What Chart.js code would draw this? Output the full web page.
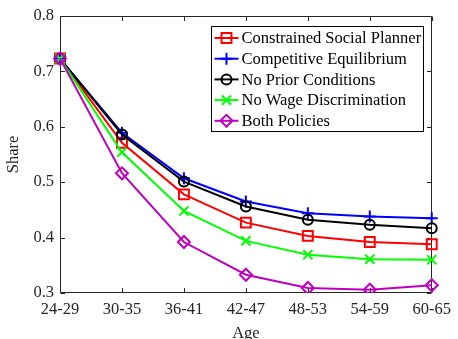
<!DOCTYPE html>
<html>
<head>
<meta charset="utf-8">
<script src="https://cdn.jsdelivr.net/npm/chart.js@4.4.1/dist/chart.umd.min.js"></script>
<style>
  html, body { margin: 0; padding: 0; background: #fff; }
</style>
</head>
<body>
<canvas id="chart" width="458" height="339"></canvas>
<script>
// age groups on the x axis
const ageGroups = ['24-29', '30-35', '36-41', '42-47', '48-53', '54-59', '60-65'];

// share by age group for each scenario
const socialPlanner   = [0.723, 0.571, 0.478, 0.427, 0.403, 0.392, 0.388];
const competitiveEq   = [0.723, 0.589, 0.507, 0.465, 0.444, 0.438, 0.435];
const noPriorCond     = [0.723, 0.586, 0.501, 0.456, 0.432, 0.423, 0.417];
const noWageDiscrim   = [0.723, 0.554, 0.448, 0.394, 0.369, 0.361, 0.360];
const bothPolicies    = [0.723, 0.516, 0.392, 0.333, 0.309, 0.306, 0.314];

const yTicks = [0.3, 0.4, 0.5, 0.6, 0.7, 0.8];

const axisColor = '#262626';
const serif = '"Liberation Serif", "Times New Roman", serif';

function series(label, data, color, style, radius, order) {
  return {
    label: label,
    data: data,
    borderColor: color,
    backgroundColor: color,
    borderWidth: 2,
    pointStyle: style,
    pointRadius: radius,
    pointHoverRadius: radius,
    pointBorderColor: color,
    pointBackgroundColor: 'rgba(0,0,0,0)',
    pointBorderWidth: 2,
    tension: 0,
    order: order
  };
}

// matlab-like box with inward ticks
const axesBox = {
  id: 'axesBox',
  beforeDatasetsDraw(chart) {
    const { ctx, chartArea: a, scales } = chart;
    const L = Math.round(a.left) + 0.5, R = Math.round(a.right) - 0.5;
    const T = Math.round(a.top) + 0.5, B = Math.round(a.bottom) - 0.5;
    const tl = 4.5;
    ctx.save();
    ctx.strokeStyle = axisColor;
    ctx.lineWidth = 1;
    ctx.beginPath();
    ctx.rect(L, T, R - L, B - T);
    scales.x.ticks.forEach((t, i) => {
      const x = Math.round(scales.x.getPixelForTick(i)) + 0.5;
      ctx.moveTo(x, B); ctx.lineTo(x, B - tl);
      ctx.moveTo(x, T); ctx.lineTo(x, T + tl);
    });
    scales.y.ticks.forEach(t => {
      const y = Math.round(scales.y.getPixelForValue(t.value)) + 0.5;
      ctx.moveTo(L, y); ctx.lineTo(L + tl, y);
      ctx.moveTo(R, y); ctx.lineTo(R - tl, y);
    });
    ctx.stroke();
    ctx.restore();
  }
};

// legend box in the top right corner of the plot
const legendBox = {
  id: 'legendBox',
  afterDatasetsDraw(chart) {
    const { ctx, chartArea: a } = chart;
    const sets = chart.data.datasets;
    const rowH = 20.7;
    ctx.save();
    ctx.font = '16.5px ' + serif;
    const textW = Math.max(...sets.map(d => ctx.measureText(d.label).width));
    const right = Math.round(a.right - 9) + 0.5;
    const top = Math.round(a.top + 10) + 0.5;
    const left = Math.round(right - textW - 33) + 0.5;
    const height = Math.round(rowH * sets.length + 1);
    ctx.fillStyle = '#fff';
    ctx.fillRect(left, top, right - left, height);
    ctx.strokeStyle = '#000';
    ctx.lineWidth = 1;
    ctx.strokeRect(left, top, right - left, height);
    sets.forEach((d, i) => {
      const y = top + 11.5 + i * rowH;
      ctx.strokeStyle = d.borderColor;
      ctx.lineWidth = 2;
      ctx.beginPath();
      ctx.moveTo(left + 3, y);
      ctx.lineTo(left + 27, y);
      ctx.stroke();
      // hollow marker on top of the line sample
      ctx.fillStyle = 'rgba(0,0,0,0)';
      Chart.helpers.drawPoint(ctx, {
        pointStyle: d.pointStyle,
        radius: d.pointRadius,
        rotation: 0,
        borderWidth: 2
      }, left + 15, y);
      ctx.fillStyle = '#000';
      ctx.textBaseline = 'middle';
      ctx.textAlign = 'left';
      ctx.fillText(d.label, left + 30, y + 1);
    });
    ctx.restore();
  }
};

const ctx = document.getElementById('chart').getContext('2d');

new Chart(ctx, {
  type: 'line',
  data: {
    labels: ageGroups,
    datasets: [
      series('Constrained Social Planner', socialPlanner, '#ff0000', 'rect', 7, 4),
      series('Competitive Equilibrium', competitiveEq, '#0000ff', 'cross', 6, 3),
      series('No Prior Conditions', noPriorCond, '#000000', 'circle', 5, 2),
      series('No Wage Discrimination', noWageDiscrim, '#00ff00', 'crossRot', 6.5, 1),
      series('Both Policies', bothPolicies, '#bf00bf', 'rectRot', 6, 0)
    ]
  },
  options: {
    responsive: false,
    animation: false,
    devicePixelRatio: 1,
    layout: { padding: { top: 15, right: 20, left: 0, bottom: 0 } },
    plugins: {
      legend: { display: false },
      tooltip: { enabled: false }
    },
    scales: {
      x: {
        type: 'category',
        offset: false,
        grid: { display: false, drawTicks: false },
        border: { display: false },
        ticks: {
          color: axisColor,
          font: { family: serif, size: 16.5 },
          padding: 7,
          maxRotation: 0,
          autoSkip: false
        },
        title: {
          display: true,
          text: 'Age',
          color: axisColor,
          font: { family: serif, size: 16.5 },
          padding: { top: 0, bottom: -5 }
        },
        afterFit(s) { s.height = 46; }
      },
      y: {
        min: 0.3,
        max: 0.8,
        grid: { display: false, drawTicks: false },
        border: { display: false },
        afterBuildTicks(s) { s.ticks = yTicks.map(v => ({ value: v })); },
        ticks: {
          color: axisColor,
          font: { family: serif, size: 16.5 },
          padding: 6,
          callback: v => v.toFixed(1)
        },
        title: {
          display: true,
          text: 'Share',
          color: axisColor,
          font: { family: serif, size: 16.5 },
          padding: { top: 3.5, bottom: 0 }
        },
        afterFit(s) { s.width = 60; }
      }
    }
  },
  plugins: [axesBox, legendBox]
});
</script>
</body>
</html>
